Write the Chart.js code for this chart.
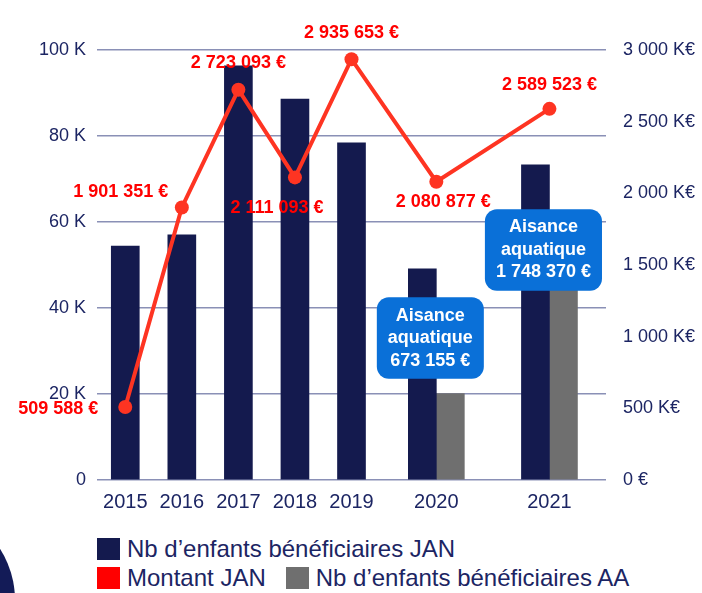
<!DOCTYPE html>
<html lang="fr">
<head>
<meta charset="utf-8">
<title>Nb d’enfants bénéficiaires et montants</title>
<script src="https://cdn.jsdelivr.net/npm/chart.js@4.4.1/dist/chart.umd.min.js"></script>
<style>
	html, body { margin:0; padding:0; background:#fff; overflow:hidden; }
	#wrap { position:relative; width:702px; height:593px; overflow:hidden; font-family:"Liberation Sans", Arial, sans-serif; }
	#blob { position:absolute; left:-175px; top:505px; width:190px; height:190px; border-radius:50%; background:#131b57; }
	#myChart { position:absolute; left:0; top:0; }
	#legend { position:absolute; left:97px; top:534px; color:#1c2563; font-size:24px; line-height:29px; }
	#legend .row { display:flex; align-items:center; white-space:nowrap; }
	#legend .item { display:flex; align-items:center; margin-right:20px; }
	#legend .sw { width:23px; height:22px; margin-right:7px; }
</style>
</head>
<body>
<div id="wrap">
	<div id="blob"></div>
	<canvas id="myChart" width="702" height="525"></canvas>
	<div id="legend"></div>
</div>
<script>
const years = ['2015', '2016', '2017', '2018', '2019', '2020', '2021'];
const enfantsJAN = [54400, 57000, 96300, 88600, 78400, 49100, 73300];
const enfantsAA = [null, null, null, null, null, 20100, 52000];
const montantJAN = [509588, 1901351, 2723093, 2111093, 2935653, 2080877, 2589523];
const montantAA = [null, null, null, null, null, 673155, 1748370];

const navy = '#141a4e';
const grey = '#6f6f6f';
const lineRed = '#fe3422';
const textBlue = '#1c2563';
const gridColor = '#8a90b6';

// where the red amount labels sit relative to their point
const labelPlacement = [
	{dx:-27, dy:2, align:'right'},
	{dx:-61, dy:-15},
	{dx:0, dy:-27},
	{dx:-18, dy:31},
	{dx:0, dy:-26},
	{dx:7, dy:20},
	{dx:0, dy:-24}
];

// blue "Aisance aquatique" boxes, centred at a left-axis value
const boxCentre = {5:33000, 6:53500};

function spaced(v) {
	return String(v).replace(/\B(?=(\d{3})+(?!\d))/g, ' ');
}
function euros(v) {
	return spaced(v) + ' €';
}

// category axis where a year with two bars gets two slots of width
class WeightedCategoryScale extends Chart.CategoryScale {
	static id = 'weightedCategory';
	slots(i) {
		let n = this.chart.data.datasets.filter(d => d.type === 'bar' && d.data[i] != null).length;
		return n || 1;
	}
	getPixelForValue(value) {
		if (typeof value !== 'number') value = this.parse(value);
		if (value === null || isNaN(value)) return NaN;
		let count = this.getLabels().length;
		let idx = Math.max(0, Math.min(count - 1, Math.round(value)));
		let total = 0, before = 0;
		for (let i = 0; i < count; i++) {
			if (i < idx) before += this.slots(i);
			total += this.slots(i);
		}
		return this.getPixelForDecimal((before + this.slots(idx) / 2) / total);
	}
}
Chart.register(WeightedCategoryScale);

const montantLabels = {
	id: 'montantLabels',
	afterDatasetsDraw(chart) {
		let ctx = chart.ctx;
		let meta = chart.getDatasetMeta(0);
		ctx.save();
		ctx.font = 'bold 18px "Liberation Sans"';
		ctx.fillStyle = '#ff0000';
		ctx.textBaseline = 'middle';
		meta.data.forEach((pt, i) => {
			let p = labelPlacement[i];
			ctx.textAlign = p.align || 'center';
			ctx.fillText(euros(montantJAN[i]), pt.x + p.dx, pt.y + p.dy);
		});
		ctx.restore();
	}
};

const aaBoxes = {
	id: 'aaBoxes',
	afterDatasetsDraw(chart) {
		let ctx = chart.ctx;
		let x = chart.scales.x;
		let y = chart.scales.y;
		ctx.save();
		ctx.font = 'bold 18px "Liberation Sans"';
		montantAA.forEach((v, i) => {
			if (v == null) return;
			let lines = ['Aisance', 'aquatique', euros(v)];
			let w = Math.max(...lines.map(l => ctx.measureText(l).width)) + 22;
			let lh = 22.5;
			let h = lines.length * lh + 14;
			let cx = x.getPixelForValue(i) - 6;
			let cy = y.getPixelForValue(boxCentre[i]);
			ctx.fillStyle = '#0a70d8';
			ctx.beginPath();
			ctx.roundRect(cx - w / 2, cy - h / 2, w, h, 12);
			ctx.fill();
			ctx.fillStyle = '#ffffff';
			ctx.textAlign = 'center';
			ctx.textBaseline = 'middle';
			lines.forEach((l, k) => ctx.fillText(l, cx, cy - h / 2 + 7 + lh * (k + 0.5)));
		});
		ctx.restore();
	}
};

document.addEventListener('DOMContentLoaded', init, false);

function init() {

	const ctx = document.getElementById('myChart');

	let chart = new Chart(ctx, {
		type: 'bar',
		data: {
			labels: years,
			datasets: [
				{
					type: 'line',
					label: 'Montant JAN',
					data: montantJAN,
					yAxisID: 'y1',
					borderColor: lineRed,
					backgroundColor: '#ff0000',
					borderWidth: 4,
					pointRadius: 7,
					pointBackgroundColor: lineRed,
					pointBorderWidth: 0,
					tension: 0,
					order: 0
				},
				{
					type: 'bar',
					label: 'Nb d’enfants bénéficiaires JAN',
					data: enfantsJAN,
					backgroundColor: navy,
					barThickness: 28,
					skipNull: true,
					order: 1
				},
				{
					type: 'bar',
					label: 'Nb d’enfants bénéficiaires AA',
					data: enfantsAA,
					backgroundColor: grey,
					barThickness: 28,
					skipNull: true,
					order: 1
				}
			]
		},
		options: {
			responsive: false,
			animation: false,
			events: [],
			layout: { padding: { top: 50, left: 0, right: 0, bottom: 0 } },
			plugins: {
				legend: { display: false },
				tooltip: { enabled: false }
			},
			scales: {
				x: {
					type: 'weightedCategory',
					grid: { display: false },
					border: { display: false },
					ticks: { color: textBlue, font: { family: 'Liberation Sans', size: 20 }, padding: 2 },
					afterFit: s => { s.height = 45; }
				},
				y: {
					position: 'left',
					min: 0,
					max: 100000,
					ticks: {
						stepSize: 20000,
						color: textBlue,
						padding: 11,
						font: { family: 'Liberation Sans', size: 18 },
						callback: v => v === 0 ? '0' : (v / 1000) + ' K'
					},
					grid: { color: gridColor, lineWidth: 1.5, drawTicks: false },
					border: { display: false },
					afterFit: s => { s.width = 97; }
				},
				y1: {
					position: 'right',
					min: 0,
					max: 3000000,
					ticks: {
						stepSize: 500000,
						color: textBlue,
						padding: 17,
						font: { family: 'Liberation Sans', size: 18 },
						callback: v => v === 0 ? '0 €' : spaced(v / 1000) + ' K€'
					},
					grid: { drawOnChartArea: false, drawTicks: false },
					border: { display: false },
					afterFit: s => { s.width = 96; }
				}
			}
		},
		plugins: [aaBoxes, montantLabels]
	});

	// legend: first bar series alone, then the amount and the AA bars
	let ds = chart.data.datasets;
	let rows = [[ds[1]], [ds[0], ds[2]]];
	let html = '';
	rows.forEach(r => {
		html += '<div class="row">';
		r.forEach(d => html += `<div class="item"><span class="sw" style="background:${d.backgroundColor}"></span>${d.label}</div>`);
		html += '</div>';
	});
	document.getElementById('legend').innerHTML = html;
}
</script>
</body>
</html>
